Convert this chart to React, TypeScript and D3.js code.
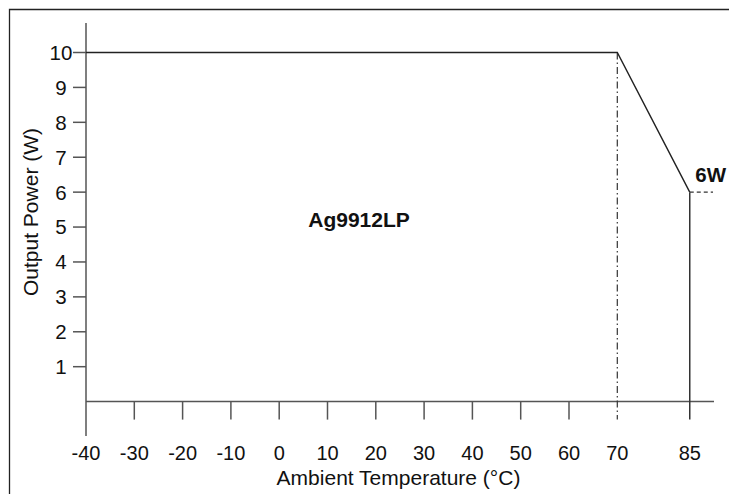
import React from "react";
import * as d3 from "d3";

const temps = [-40, 70, 85];
const power = [10, 10, 6];
const xTickValues = [-40, -30, -20, -10, 0, 10, 20, 30, 40, 50, 60, 70, 85];
const yTickValues = [1, 2, 3, 4, 5, 6, 7, 8, 9, 10];
const modelLabel = "Ag9912LP";
const endLabel = "6W";
const xTitle = "Ambient Temperature (°C)";
const yTitle = "Output Power (W)";

export default function App() {
  const W = 729, H = 494;
  const x = d3.scaleLinear().domain([-40, 70]).range([86, 617.3]);
  const y = d3.scaleLinear().domain([0, 10]).range([401.6, 52.5]);
  const font = "'Liberation Sans', Arial, sans-serif";
  const axisColor = "#555";
  const pts = temps.map((t, i) => [x(t), y(power[i])] as [number, number]);
  const line = d3.line()(pts) || "";
  const lastT = temps[temps.length - 1];
  const lastP = power[power.length - 1];
  const kneeT = temps[1];
  const y0 = y(0);
  const tickBottom = y0 + 18;
  return (
    <svg width={W} height={H} style={{ position: "absolute", left: 0, top: 0, background: "#fff" }} fontFamily={font}>
      <rect x={0} y={0} width={W} height={H} fill="#fff" />
      {/* frame */}
      <path d={`M9.5,${H} L9.5,9.5 L${W},9.5`} fill="none" stroke="#222" strokeWidth={1.3} />
      {/* y axis */}
      <line x1={x(-40)} x2={x(-40)} y1={23} y2={436} stroke={axisColor} strokeWidth={1.5} />
      {/* x axis */}
      <line x1={x(-40)} x2={714} y1={y0} y2={y0} stroke={axisColor} strokeWidth={1.5} />
      {/* y ticks */}
      {yTickValues.map((v) => (
        <g key={"y" + v}>
          <line x1={73} x2={x(-40)} y1={y(v)} y2={y(v)} stroke={axisColor} strokeWidth={1.5} />
          <text x={61} y={y(v)} dy="0.36em" textAnchor="middle" fontSize={20.5} fill="#111">{v}</text>
        </g>
      ))}
      {/* x ticks */}
      {xTickValues.map((v) => (
        <g key={"x" + v}>
          {v !== -40 && v !== kneeT && v !== lastT && (
            <line x1={x(v)} x2={x(v)} y1={y0} y2={tickBottom} stroke={axisColor} strokeWidth={1.5} />
          )}
          <text x={x(v)} y={460} textAnchor="middle" fontSize={20} fill="#111">{v}</text>
        </g>
      ))}
      {/* dash-dot at knee */}
      <line x1={x(kneeT)} x2={x(kneeT)} y1={y(10)} y2={tickBottom} stroke="#333" strokeWidth={1.2} strokeDasharray="7,3,1.5,3" />
      {/* derating line */}
      <path d={line} fill="none" stroke="#222" strokeWidth={1.4} />
      {/* vertical at end */}
      <line x1={x(lastT)} x2={x(lastT)} y1={y(lastP)} y2={tickBottom} stroke="#333" strokeWidth={1.5} />
      {/* dashed 6W */}
      <line x1={x(lastT)} x2={713} y1={y(lastP)} y2={y(lastP)} stroke="#333" strokeWidth={1.2} strokeDasharray="4,3" />
      <text x={710.7} y={182} textAnchor="middle" fontSize={20.5} fontWeight="bold" fill="#111">{endLabel}</text>
      <text x={359} y={226.7} textAnchor="middle" fontSize={21} fontWeight="bold" fill="#111">{modelLabel}</text>
      <text x={398.5} y={484.5} textAnchor="middle" fontSize={21} fill="#111">{xTitle}</text>
      <text transform={`translate(37.5,212) rotate(-90)`} textAnchor="middle" fontSize={21} fill="#111">{yTitle}</text>
    </svg>
  );
}
